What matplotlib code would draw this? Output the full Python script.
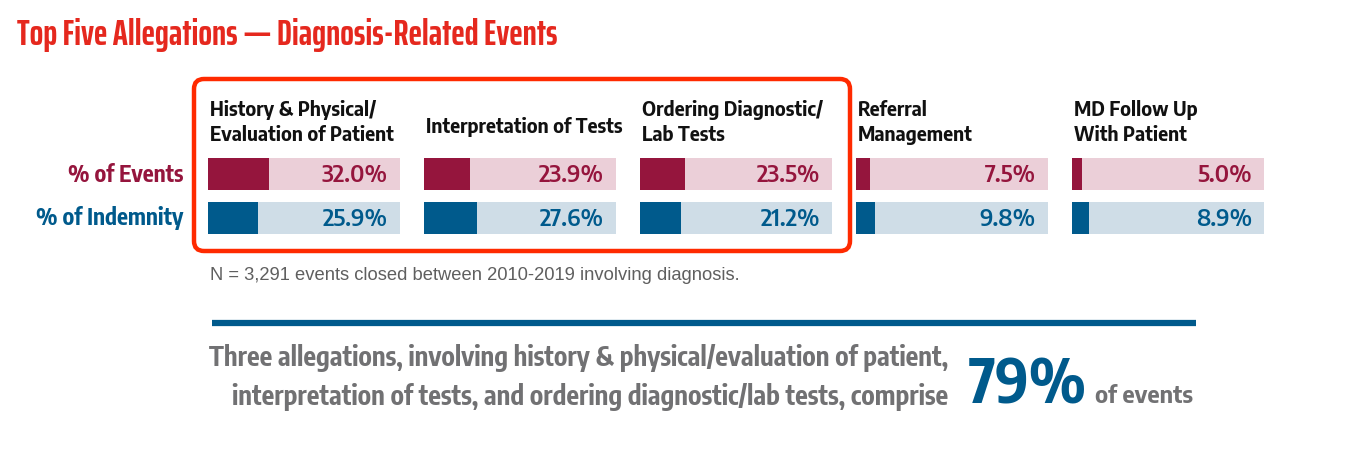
import matplotlib
matplotlib.use("Agg")
import matplotlib.pyplot as plt
from matplotlib.patches import FancyBboxPatch
from matplotlib import font_manager as fm

categories = ["History & Physical/\nEvaluation of Patient",
              "Interpretation of Tests",
              "Ordering Diagnostic/\nLab Tests",
              "Referral\nManagement",
              "MD Follow Up\nWith Patient"]
pct_events = [32.0, 23.9, 23.5, 7.5, 5.0]
pct_indemnity = [25.9, 27.6, 21.2, 9.8, 8.9]
row_labels = ["% of Events", "% of Indemnity"]

installed = {f.name for f in fm.fontManager.ttflist}


def pick(*fams):
    for f in fams:
        if f in installed:
            return [f, "DejaVu Sans"]
    return ["DejaVu Sans"]


COND = pick("Encode Sans Condensed", "Encode Sans Semi Condensed", "Saira SemiCondensed")
SEMI = pick("Encode Sans Semi Condensed", "Encode Sans Condensed", "Saira SemiCondensed")
TITLEF = pick("Encode Sans Compressed", "Saira ExtraCondensed", "Encode Sans Condensed")
PLAIN = pick("Liberation Sans", "DejaVu Sans")

W, H = 1358, 450
fig = plt.figure(figsize=(W / 100, H / 100), dpi=100)
ax = fig.add_axes([0, 0, 1, 1])
ax.set_xlim(0, W)
ax.set_ylim(H, 0)
ax.axis("off")

ev_dark, ev_light = "#95153D", "#EBCFD8"
in_dark, in_light = "#005A8C", "#CFDDE7"
gray = "#717173"

ax.text(17, 45, "Top Five Allegations \u2014 Diagnosis-Related Events", color="#E5281E",
        fontsize=26, fontweight="bold", family=TITLEF, va="baseline", ha="left")

x0, step, track = 208, 216, 192
ev_y, in_y, bh = 174, 217.5, 32
for i, cat in enumerate(categories):
    left = x0 + i * step
    ax.barh(ev_y, track, height=bh, left=left, color=ev_light)
    ax.barh(ev_y, pct_events[i] / 100 * track, height=bh, left=left, color=ev_dark)
    ax.barh(in_y, track, height=bh, left=left, color=in_light)
    ax.barh(in_y, pct_indemnity[i] / 100 * track, height=bh, left=left, color=in_dark)
    ax.text(left + track - 12, ev_y + 8, f"{pct_events[i]:.1f}%", color=ev_dark,
            fontsize=17, fontweight="semibold", family=SEMI, ha="right", va="baseline")
    ax.text(left + track - 12, in_y + 8, f"{pct_indemnity[i]:.1f}%", color=in_dark,
            fontsize=17, fontweight="semibold", family=SEMI, ha="right", va="baseline")
    lines = cat.split("\n")
    bases = [116, 141] if len(lines) == 2 else [133]
    for ln, yb in zip(lines, bases):
        ax.text(left + 2, yb, ln, color="#111111", fontsize=14, fontweight="bold",
                family=SEMI, ha="left", va="baseline")

ax.text(183, ev_y + 8, row_labels[0], color=ev_dark, fontsize=16.5, fontweight="bold",
        family=COND, ha="right", va="baseline")
ax.text(183, in_y + 8, row_labels[1], color=in_dark, fontsize=16.5, fontweight="bold",
        family=COND, ha="right", va="baseline")

box = FancyBboxPatch((194, 79), 656, 172, boxstyle="round,pad=0,rounding_size=10",
                     fill=False, edgecolor="#FF2A00", linewidth=3.2)
ax.add_patch(box)

ax.text(210, 280, "N = 3,291 events closed between 2010-2019 involving diagnosis.",
        color="#5f5f5f", fontsize=13.2, family=PLAIN, ha="left", va="baseline")

ax.plot([212, 1196], [323, 323], color=in_dark, linewidth=4.5, solid_capstyle="butt")

ax.text(948, 366, "Three allegations, involving history & physical/evaluation of patient,",
        color=gray, fontsize=18.9, fontweight="bold", family=COND, ha="right", va="baseline")
ax.text(948, 405, "interpretation of tests, and ordering diagnostic/lab tests, comprise",
        color=gray, fontsize=18.9, fontweight="bold", family=COND, ha="right", va="baseline")
t79 = ax.text(969, 404, "79%", color=in_dark, fontsize=44, fontweight="bold", family=COND,
              ha="left", va="baseline")
fig.canvas.draw()
bb = t79.get_window_extent()
xr = ax.transData.inverted().transform((bb.x1, bb.y0))[0]
ax.text(xr + 8, 403, "of events", color=gray, fontsize=17, fontweight="bold", family=SEMI,
        ha="left", va="baseline")

fig.savefig("out.png", dpi=100, facecolor="white")
